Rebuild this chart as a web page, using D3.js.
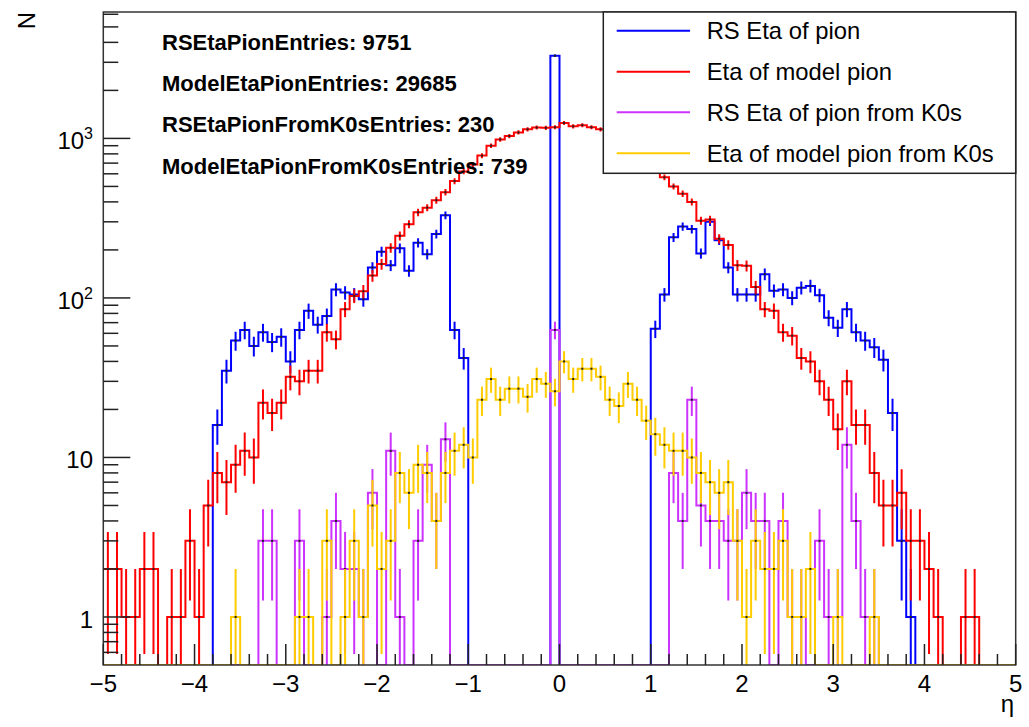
<!DOCTYPE html>
<html>
<head>
<meta charset="utf-8">
<script src="https://cdn.jsdelivr.net/npm/d3@7"></script>
<style>
    body { margin: 0; background: #fff; }
    text { font-family: "Liberation Sans", Arial, sans-serif; fill: #000; }
</style>
</head>
<body>
<div id="chart"></div>
<script>
// histogram binning: 100 bins from -5 to 5
let etaRange = [-5, 5];
let nBins = 100;

// RS Eta of pion
let rsPion = [
    0, 0, 0, 0, 0, 0, 0, 0, 0, 0,
    0, 0, 16, 35, 54, 63, 50, 61, 53, 57,
    40, 63, 83, 68, 77, 113, 108, 105, 98, 155,
    195, 160, 205, 148, 222, 188, 252, 330, 63, 42,
    0, 0, 0, 0, 0, 0, 0, 0, 0, 3300,
    0, 0, 0, 0, 0, 0, 0, 0, 0, 0,
    64, 105, 240, 280, 270, 190, 300, 230, 155, 105,
    105, 105, 141, 111, 113, 100, 116, 119, 104, 75,
    65, 85, 61, 54, 49, 41, 19, 3, 1, 0,
    0, 0, 0, 0, 0, 0, 0, 0, 0, 0
];

// Eta of model pion
let modelPion = [
    2, 2, 1, 1, 2, 2, 0, 1, 1, 3,
    1, 5, 8, 7, 9, 11, 10, 22, 19, 22,
    32, 30, 35, 35, 61, 55, 85, 103, 110, 138,
    163, 206, 245, 290, 344, 368, 410, 460, 540, 620,
    685, 780, 900, 985, 1035, 1090, 1140, 1170, 1165, 1175,
    1250, 1190, 1210, 1175, 1140, 1110, 1070, 1000, 920, 840,
    700, 570, 500, 450, 400, 305, 310, 235, 215, 160,
    159, 117, 85, 83, 61, 58, 42, 40, 30, 23,
    15, 30, 16, 16, 8, 5, 5, 6, 3, 3,
    2, 1, 0, 0, 1, 1, 0, 0, 0, 0
];

// RS Eta of pion from K0s
let rsPionK0s = [
    0, 0, 0, 0, 0, 0, 0, 0, 0, 0,
    0, 0, 0, 0, 0, 0, 0, 3, 3, 0,
    0, 3, 0, 0, 1, 4, 2, 2, 1, 6,
    0, 11, 1, 0, 3, 9, 4, 13, 0, 0,
    0, 0, 0, 0, 0, 0, 0, 0, 0, 63,
    0, 0, 0, 0, 0, 0, 0, 0, 0, 0,
    0, 0, 8, 4, 23, 5, 4, 4, 3, 3,
    6, 4, 4, 0, 4, 1, 1, 0, 3, 1,
    1, 12, 4, 1, 1, 0, 0, 0, 0, 0,
    0, 0, 0, 0, 0, 0, 0, 0, 0, 0
];

// Eta of model pion from K0s
let modelPionK0s = [
    0, 0, 0, 0, 0, 0, 0, 0, 0, 0,
    0, 0, 0, 0, 1, 0, 0, 0, 0, 0,
    0, 1, 1, 0, 3, 0, 1, 3, 1, 5,
    2, 3, 8, 6, 9, 8, 4, 8, 11, 12,
    10, 23, 31, 23, 27, 27, 24, 31, 29, 26,
    40, 31, 36, 36, 32, 23, 21, 29, 23, 17,
    14, 12, 11, 11, 10, 8, 7, 6, 7, 3,
    1, 3, 2, 2, 3, 1, 1, 2, 0, 0,
    1, 0, 0, 0, 1, 0, 0, 0, 0, 0,
    0, 0, 0, 0, 0, 0, 0, 0, 0, 0
];

let seriesNames = ['RS Eta of pion', 'Eta of model pion', 'RS Eta of pion from K0s', 'Eta of model pion from K0s'];
let seriesColors = ['#0000ff', '#ff0000', '#cc33ff', '#ffcc00'];
let seriesCounts = [rsPion, modelPion, rsPionK0s, modelPionK0s];

let statLines = [
    'RSEtaPionEntries: 9751',
    'ModelEtaPionEntries: 29685',
    'RSEtaPionFromK0sEntries: 230',
    'ModelEtaPionFromK0sEntries: 739'
];

let xTicks = [-5, -4, -3, -2, -1, 0, 1, 2, 3, 4, 5];
let yTicks = [1, 10, 100, 1000];
let yTickBase = ['1', '10', '10', '10'];
let yTickExp = ['', '', '2', '3'];

let width = 1029, height = 727;
let frame = {left: 103.3, right: 1015.7, top: 12, bottom: 665};

let svg = d3.select('#chart').append('svg')
    .attr('width', width)
    .attr('height', height);

let x = d3.scaleLinear()
    .domain(etaRange)
    .range([frame.left, frame.right]);

let y = d3.scaleLog()
    .domain([0.5, 6200])
    .range([frame.bottom, frame.top]);

let binW = (etaRange[1] - etaRange[0]) / nBins;
let binLo = i => etaRange[0] + i * binW;

svg.append('defs').append('clipPath')
    .attr('id', 'plot-clip')
    .append('rect')
    .attr('x', frame.left)
    .attr('y', frame.top)
    .attr('width', frame.right - frame.left)
    .attr('height', frame.bottom - frame.top);

function yVal(c) {
    return c > 0 ? y(c) : frame.bottom;
}

function stepPath(counts) {
    let p = d3.path();
    counts.forEach((c, i) => {
        let x0 = x(binLo(i)), x1 = x(binLo(i + 1));
        if (i === 0) p.moveTo(x0, yVal(c));
        else p.lineTo(x0, yVal(c));
        p.lineTo(x1, yVal(c));
    });
    return p.toString();
}

let plot = svg.append('g').attr('clip-path', 'url(#plot-clip)');

seriesCounts.forEach((counts, k) => {
    let g = plot.append('g');
    let filled = counts.map((c, i) => ({c: c, i: i})).filter(d => d.c > 0);

    g.append('path')
        .attr('d', stepPath(counts))
        .attr('fill', 'none')
        .attr('stroke', seriesColors[k])
        .attr('stroke-width', 2);

    // error bars sqrt(N)
    g.selectAll('.err')
        .data(filled)
        .enter().append('line')
        .attr('x1', d => x(binLo(d.i) + binW / 2))
        .attr('x2', d => x(binLo(d.i) + binW / 2))
        .attr('y1', d => d.c - Math.sqrt(d.c) > 0.5 ? y(d.c - Math.sqrt(d.c)) : frame.bottom)
        .attr('y2', d => y(d.c + Math.sqrt(d.c)))
        .attr('stroke', seriesColors[k])
        .attr('stroke-width', 2);

    g.selectAll('.mk')
        .data(filled)
        .enter().append('rect')
        .attr('x', d => x(binLo(d.i) + binW / 2) - 1)
        .attr('y', d => y(d.c) - 1)
        .attr('width', 2)
        .attr('height', 2)
        .attr('fill', '#222');
});

// frame
svg.append('rect')
    .attr('x', frame.left)
    .attr('y', frame.top)
    .attr('width', frame.right - frame.left)
    .attr('height', frame.bottom - frame.top)
    .attr('fill', 'none')
    .attr('stroke', '#333')
    .attr('stroke-width', 1.5);

// x axis ticks (drawn inside, upward)
let xMinor = d3.range(-50, 51, 2).map(v => v / 10).filter(v => Math.abs(v - Math.round(v)) > 1e-6);
let axes = svg.append('g').attr('stroke', '#222').attr('stroke-width', 1.5);

axes.selectAll('.xmaj')
    .data(xTicks)
    .enter().append('line')
    .attr('x1', d => x(d)).attr('x2', d => x(d))
    .attr('y1', frame.bottom).attr('y2', frame.bottom - 21);

axes.selectAll('.xmin')
    .data(xMinor)
    .enter().append('line')
    .attr('x1', d => x(d)).attr('x2', d => x(d))
    .attr('y1', frame.bottom).attr('y2', frame.bottom - 11);

// y axis ticks
let yMinor = [];
[0.1, 1, 10, 100, 1000].forEach(dec => {
    for (let m = 2; m <= 9; m++) {
        let v = dec * m;
        if (v > 0.5 && v < 6200) yMinor.push(v);
    }
});

axes.selectAll('.ymaj')
    .data(yTicks)
    .enter().append('line')
    .attr('x1', frame.left).attr('x2', frame.left + 27)
    .attr('y1', d => y(d)).attr('y2', d => y(d));

axes.selectAll('.ymin')
    .data(yMinor)
    .enter().append('line')
    .attr('x1', frame.left).attr('x2', frame.left + 15)
    .attr('y1', d => y(d)).attr('y2', d => y(d));

svg.selectAll('.xlab')
    .data(xTicks)
    .enter().append('text')
    .attr('x', d => x(d))
    .attr('y', 692)
    .attr('text-anchor', 'middle')
    .style('font-size', '24px')
    .text(d => d < 0 ? '\u2212' + Math.abs(d) : d);

let ylab = svg.selectAll('.ylab')
    .data(yTicks)
    .enter().append('text')
    .attr('x', 93)
    .attr('y', d => y(d) + 11)
    .attr('text-anchor', 'end')
    .style('font-size', '24px');

ylab.append('tspan').text((d, i) => yTickBase[i]);
ylab.append('tspan')
    .attr('dy', -10)
    .style('font-size', '16px')
    .text((d, i) => yTickExp[i]);

// axis titles
svg.append('text')
    .attr('transform', 'translate(35, 12) rotate(-90)')
    .attr('text-anchor', 'end')
    .style('font-size', '24px')
    .text('N');

svg.append('text')
    .attr('x', 1014)
    .attr('y', 712)
    .attr('text-anchor', 'end')
    .style('font-size', '24px')
    .text('\u03b7');

// entries text
svg.selectAll('.stat')
    .data(statLines)
    .enter().append('text')
    .attr('x', 162)
    .attr('y', (d, i) => 50 + i * 41.2)
    .style('font-size', '22px')
    .style('font-weight', 'bold')
    .text(d => d);

// legend
let legend = svg.append('g');
legend.append('rect')
    .attr('x', 603.3)
    .attr('y', frame.top)
    .attr('width', frame.right - 603.3)
    .attr('height', 161.3)
    .attr('fill', '#fff')
    .attr('stroke', '#222')
    .attr('stroke-width', 1.5);

let legendY = [30.7, 71.7, 112.3, 153.3];
let item = legend.selectAll('.item')
    .data(seriesNames)
    .enter().append('g')
    .attr('transform', (d, i) => `translate(0, ${legendY[i]})`);

item.append('line')
    .attr('x1', 616.7).attr('x2', 690)
    .attr('stroke', (d, i) => seriesColors[i])
    .attr('stroke-width', 2);

item.append('text')
    .attr('x', 706.7)
    .attr('y', 8.5)
    .style('font-size', '23.8px')
    .text(d => d);
</script>
</body>
</html>
